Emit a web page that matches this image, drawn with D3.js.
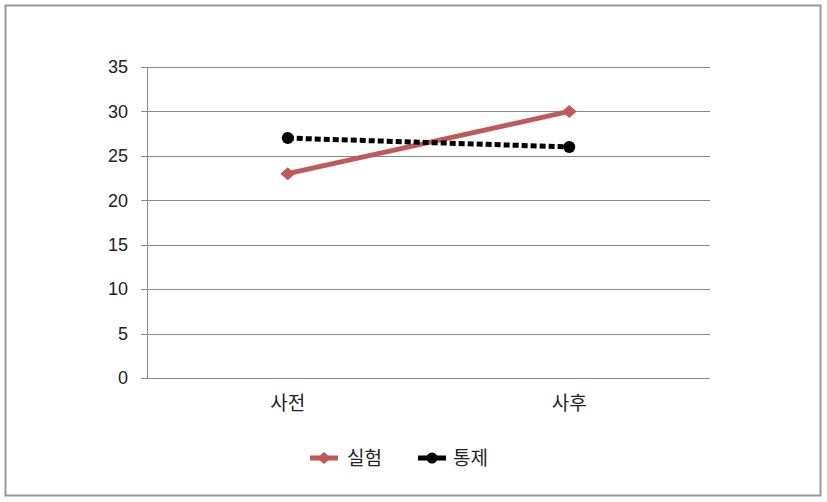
<!DOCTYPE html>
<html><head><meta charset="utf-8">
<script src="https://cdn.jsdelivr.net/npm/d3@7"></script>
<style>body{margin:0;background:#fff}svg{display:block}text{font-family:"Noto Sans CJK KR","Liberation Sans",sans-serif;fill:#222}</style>
</head><body>
<svg id="c" width="827" height="502"></svg>
<script>
const categories = ["사전", "사후"];
const seriesNames = ["실험", "통제"];
const experimental = [23, 30];
const control = [27, 26];
const yTicks = [0, 5, 10, 15, 20, 25, 30, 35];

const svg = d3.select("#c");
svg.append("rect").attr("x",5.5).attr("y",5.5).attr("width",815).attr("height",490)
  .attr("fill","#fff").attr("stroke","#999").attr("stroke-width",2);

const L=147, R=710, T=67, B=378;
const x = d3.scaleBand().domain(categories).range([L,R]);
const y = d3.scaleLinear().domain([0,35]).range([B,T]);

// gridlines
svg.append("g").selectAll("line").data(yTicks).join("line")
  .attr("x1",L-6).attr("x2",R).attr("y1",d=>Math.round(y(d))+0.5).attr("y2",d=>Math.round(y(d))+0.5)
  .attr("stroke","#888").attr("stroke-width",1);
svg.append("line").attr("x1",L+0.5).attr("x2",L+0.5).attr("y1",T).attr("y2",B).attr("stroke","#888");

const ya = d3.axisLeft(y).tickValues(yTicks).tickSize(0).tickPadding(19);
const gy = svg.append("g").attr("transform",`translate(${L},0)`).call(ya);
gy.select(".domain").remove();
gy.selectAll("text").style("font-family","'Liberation Sans',sans-serif").attr("font-size",18).attr("fill","#333");

const xa = d3.axisBottom(x).tickSize(0).tickPadding(19);
const gx = svg.append("g").attr("transform",`translate(0,${B})`).call(xa);
gx.select(".domain").remove();
gx.selectAll("text").attr("font-size",19).attr("fill","#333");

const cx = d => x(d)+x.bandwidth()/2;
const line = d3.line().x((d,i)=>cx(categories[i])).y(d=>y(d));
const diamond = (w,h) => `M${-w/2},0L0,${-h/2}L${w/2},0L0,${h/2}Z`;

svg.append("path").datum(experimental).attr("d",line).attr("fill","none")
  .attr("stroke","#c0595a").attr("stroke-width",5);
svg.append("g").selectAll("path").data(experimental).join("path")
  .attr("d",diamond(15,13))
  .attr("transform",(d,i)=>`translate(${cx(categories[i])},${y(d)})`)
  .attr("fill","#c0595a");

svg.append("path").datum(control).attr("d",line).attr("fill","none")
  .attr("stroke","#000").attr("stroke-width",5).attr("stroke-dasharray","6,3");
svg.append("g").selectAll("circle").data(control).join("circle")
  .attr("cx",(d,i)=>cx(categories[i])).attr("cy",d=>y(d)).attr("r",6).attr("fill","#000");

// legend
const legendX = [310, 418];
const colors = ["#c0595a","#000"];
const lg = svg.append("g").selectAll("g").data(seriesNames).join("g")
  .attr("transform",(d,i)=>`translate(${legendX[i]},458)`);
lg.append("line").attr("x1",0).attr("x2",28).attr("y1",0).attr("y2",0)
  .attr("stroke",(d,i)=>colors[i]).attr("stroke-width",5);
lg.filter((d,i)=>i===0).append("path").attr("d",diamond(14,12)).attr("transform","translate(14,0)").attr("fill",colors[0]);
lg.filter((d,i)=>i===1).append("circle").attr("cx",14).attr("r",5.5).attr("fill","#000");
lg.append("text").attr("x",(d,i)=>i===0?37:35).attr("y",0).attr("dy","0.35em").attr("font-size",19).attr("fill","#333").text(d=>d);
</script>
</body></html>
